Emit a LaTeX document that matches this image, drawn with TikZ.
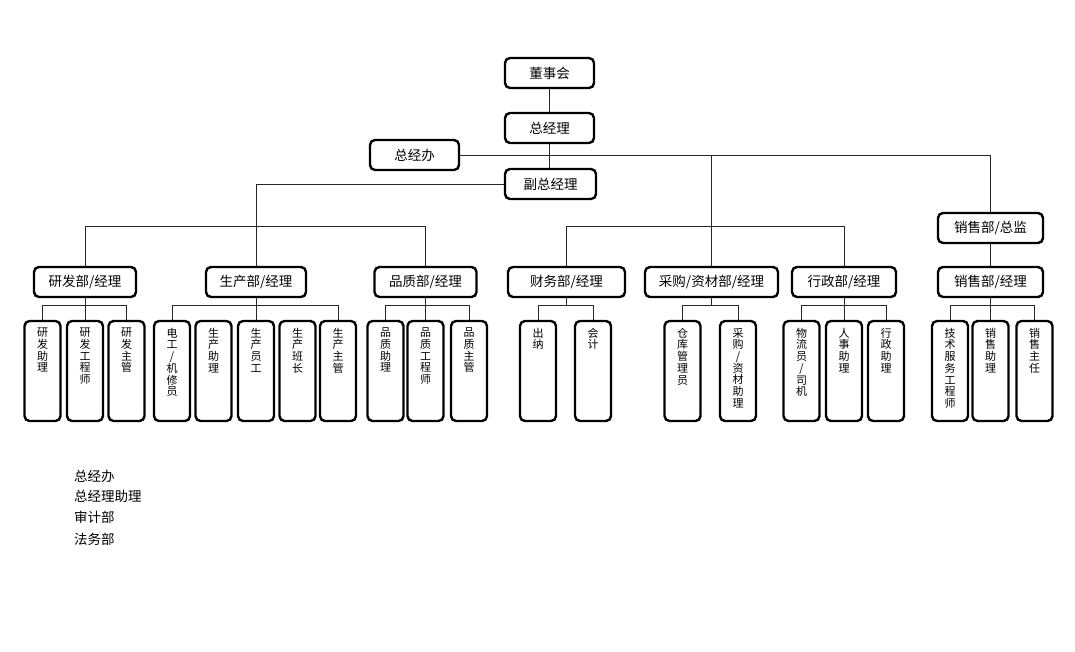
\documentclass[tikz,border=0pt]{standalone}
\usepackage{fontspec}
\setmainfont{Noto Sans CJK SC}
\newcommand\enColonne[1]{\parbox[t][86pt][t]{16pt}{\centering\fontsize{11}{11.7}\selectfont #1}}

\begin{document}
\begin{tikzpicture}[x=1pt,y=-1pt]
\tikzset{boite/.style={draw, rounded corners=5pt, line width=2.4pt, minimum width=#1, minimum height=30pt, inner sep=0pt, font=\fontsize{13.5}{15}\selectfont}, boite/.default=90}
\tikzset{petite/.style={draw, rounded corners=5pt, line width=2.4pt, minimum width=36pt, minimum height=100pt, inner xsep=0pt, inner ysep=7pt}}
\tikzset{lien/.style={draw=black!85, line width=0.9pt}}
\tikzset{liste/.style={anchor=west, inner sep=0pt, font=\fontsize{13.5}{15}\selectfont}}
\useasboundingbox (0,0) rectangle (1075,651);
\node[boite=89] (DSH) at (549.5,73) {董事会};
\node[boite=89] (ZJL) at (549.5,128) {总经理};
\node[boite=89] (ZJB) at (414.5,155) {总经办};
\node[boite=91] (FZJL) at (550.5,184) {副总经理};
\node[boite=102] (YF) at (85,282) {研发部/经理};
\node[boite=100] (SC) at (256,282) {生产部/经理};
\node[boite=102] (PZ) at (425.5,282) {品质部/经理};
\node[boite=117] (CW) at (566.5,282) {财务部/经理};
\node[boite=133] (CG) at (711.5,282) {采购/资材部/经理};
\node[boite=104] (XZ) at (844,282) {行政部/经理};
\node[boite=105] (XSZJ) at (990.5,228) {销售部/总监};
\node[boite=105] (XSJL) at (990.5,282) {销售部/经理};
\node[petite] (YF1) at (42.5,371) {\enColonne{研\\发\\助\\理}};
\node[petite] (YF2) at (85,371) {\enColonne{研\\发\\工\\程\\师}};
\node[petite] (YF3) at (126.5,371) {\enColonne{研\\发\\主\\管}};
\node[petite] (SC1) at (172,371) {\enColonne{电\\工\\/\\机\\修\\员}};
\node[petite] (SC2) at (213.5,371) {\enColonne{生\\产\\助\\理}};
\node[petite] (SC3) at (256,371) {\enColonne{生\\产\\员\\工}};
\node[petite] (SC4) at (297.5,371) {\enColonne{生\\产\\班\\长}};
\node[petite] (SC5) at (338,371) {\enColonne{生\\产\\主\\管}};
\node[petite] (PZ1) at (385.5,371) {\enColonne{品\\质\\助\\理}};
\node[petite] (PZ2) at (425.5,371) {\enColonne{品\\质\\工\\程\\师}};
\node[petite] (PZ3) at (469,371) {\enColonne{品\\质\\主\\管}};
\node[petite] (CW1) at (538,371) {\enColonne{出\\纳}};
\node[petite] (CW2) at (593,371) {\enColonne{会\\计}};
\node[petite] (CG1) at (682.5,371) {\enColonne{仓\\库\\管\\理\\员}};
\node[petite] (CG2) at (738,371) {\enColonne{采\\购\\/\\资\\材\\助\\理}};
\node[petite] (XZ1) at (801.5,371) {\enColonne{物\\流\\员\\/\\司\\机}};
\node[petite] (XZ2) at (844,371) {\enColonne{人\\事\\助\\理}};
\node[petite] (XZ3) at (886,371) {\enColonne{行\\政\\助\\理}};
\node[petite] (XS1) at (950,371) {\enColonne{技\\术\\服\\务\\工\\程\\师}};
\node[petite] (XS2) at (990.5,371) {\enColonne{销\\售\\助\\理}};
\node[petite] (XS3) at (1034.5,371) {\enColonne{销\\售\\主\\任}};
\node[liste] (L1) at (74,476) {总经办};
\node[liste] (L2) at (74,496) {总经理助理};
\node[liste] (L3) at (74,517) {审计部};
\node[liste] (L4) at (74,539) {法务部};
% liaisons du haut
\draw[lien] (DSH) -- (ZJL);
\draw[lien] (ZJL.south) -- (ZJL.south |- FZJL.north);
\draw[lien] (ZJB.east) -| (XSZJ.north);
\draw[lien] (ZJB.east -| CG.north) -- (CG.north);
\draw[lien] (CW.north) -- ++(0,-39) -| (XZ.north);
\draw[lien] (FZJL.west) -| (SC.north);
\draw[lien] (YF.north) -- ++(0,-39) -| (PZ.north);
\draw[lien] (XSZJ) -- (XSJL);
% liaisons des services
\draw[lien] (YF) -- (YF2);
\draw[lien] (YF1.north) -- ++(0,-14) -| (YF3.north);
\draw[lien] (SC) -- (SC3);
\draw[lien] (SC1.north) -- ++(0,-14) -| (SC5.north);
\draw[lien] (PZ) -- (PZ2);
\draw[lien] (PZ1.north) -- ++(0,-14) -| (PZ3.north);
\draw[lien] (CW1.north) -- ++(0,-14) coordinate (CWb) -| (CW2.north);
\draw[lien] (CW.south) -- (CW.south |- CWb);
\draw[lien] (CG1.north) -- ++(0,-14) coordinate (CGb) -| (CG2.north);
\draw[lien] (CG.south) -- (CG.south |- CGb);
\draw[lien] (XZ) -- (XZ2);
\draw[lien] (XZ1.north) -- ++(0,-14) -| (XZ3.north);
\draw[lien] (XSJL) -- (XS2);
\draw[lien] (XS1.north) -- ++(0,-14) -| (XS3.north);
\end{tikzpicture}
\end{document}
